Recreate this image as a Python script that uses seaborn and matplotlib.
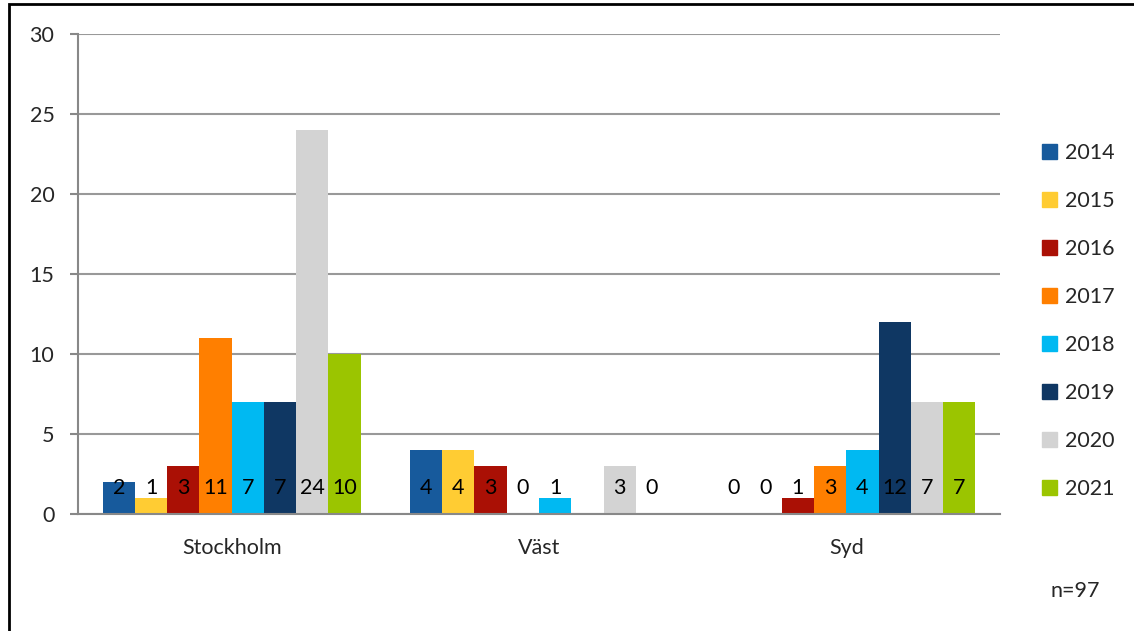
import numpy as np
import pandas as pd
import matplotlib
matplotlib.use('Agg')
import matplotlib.pyplot as plt
import seaborn as sns
from matplotlib.patches import Rectangle

# data
regions = ['Stockholm', 'Väst', 'Syd']
years = ['2014', '2015', '2016', '2017', '2018', '2019', '2020', '2021']
stockholm = [2, 1, 3, 11, 7, 7, 24, 10]
vast = [4, 4, 3, 0, 1, np.nan, 3, 0]
syd = [0, 0, 1, 3, 4, 12, 7, 7]
colors = ['#175A9C', '#FFCC33', '#AA1005', '#FF7F00', '#00B9F2', '#0F3763', '#D3D3D3', '#9BC500']
y_ticks = [0, 5, 10, 15, 20, 25, 30]
note = 'n=97'

rows = []
for reg, vals in zip(regions, [stockholm, vast, syd]):
    for yr, v in zip(years, vals):
        rows.append({'region': reg, 'year': yr, 'value': v})
df = pd.DataFrame(rows)

sns.set_style('white')
plt.rcParams['font.family'] = ['Lato', 'DejaVu Sans']
fs = 15.5

fig = plt.figure(figsize=(11.34, 6.31), dpi=100)
ax = fig.add_axes([78/1134, 1-514/631, (1000-78)/1134, (514-34)/631])

sns.barplot(data=df, x='region', y='value', hue='year', order=regions, hue_order=years,
            palette=colors, errorbar=None, width=0.84, gap=0, linewidth=0, ax=ax,
            saturation=1, legend=False)

# labels at inside base
for cont in ax.containers:
    for bar in cont:
        h = bar.get_height()
        if np.isnan(h):
            continue
        ax.text(bar.get_x() + bar.get_width()/2, 1.6, f'{int(h)}', ha='center', va='center',
                fontsize=fs, color='black')

ax.set_xlim(-0.5, 2.5)
ax.set_ylim(0, 30)
ax.set_yticks(y_ticks)
ax.set_xlabel('')
ax.set_ylabel('')
ax.grid(axis='y', color='#999999', lw=1.5)
ax.set_axisbelow(True)
for s in ['top', 'right']:
    ax.spines[s].set_visible(False)
for s in ['left', 'bottom']:
    ax.spines[s].set_color('#888888')
    ax.spines[s].set_linewidth(1.5)
ax.set_xticks([-0.5, 0.5, 1.5, 2.5], minor=True)
ax.tick_params(axis='x', which='major', length=0, pad=17, labelsize=fs)
ax.tick_params(axis='x', which='minor', length=6, width=1.5, color='#888888', direction='out')
ax.tick_params(axis='y', length=6, width=1.5, color='#888888', direction='out', pad=11,
               labelsize=fs, left=True)

handles = [Rectangle((0, 0), 1, 1, color=c) for c in colors]
fig.legend(handles, years, loc='upper left', bbox_to_anchor=(1023/1134, 1-124/631), frameon=False,
           fontsize=fs, handlelength=0.7, handleheight=0.7, handletextpad=0.35, labelspacing=1.3)

fig.text(1050/1134, 1-591/631, note, fontsize=fs, va='center', ha='left')

fig.patches.append(Rectangle((9/1134, -0.05), 1.1, 1-4/631+0.05, transform=fig.transFigure,
                             fill=False, edgecolor='black', lw=2))

fig.savefig('out.png', dpi=100)
